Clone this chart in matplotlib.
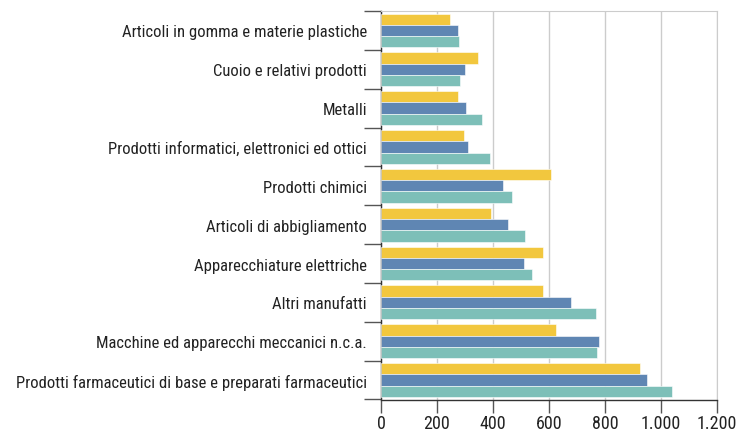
import numpy as np
import matplotlib.pyplot as plt
from matplotlib.ticker import FuncFormatter

plt.rcParams['font.family'] = ['Roboto Condensed', 'DejaVu Sans']

# categories, top to bottom
categories = [
    "Articoli in gomma e materie plastiche",
    "Cuoio e relativi prodotti",
    "Metalli",
    "Prodotti informatici, elettronici ed ottici",
    "Prodotti chimici",
    "Articoli di abbigliamento",
    "Apparecchiature elettriche",
    "Altri manufatti",
    "Macchine ed apparecchi meccanici n.c.a.",
    "Prodotti farmaceutici di base e preparati farmaceutici",
]
yellow = [246, 348, 276, 295, 606, 394, 579, 578, 625, 925]
blue = [275, 300, 303, 309, 435, 453, 509, 678, 780, 949]
teal = [278, 283, 359, 388, 468, 516, 540, 768, 770, 1038]
xticks = [0, 200, 400, 600, 800, 1000, 1200]

fig = plt.figure(figsize=(7.36, 4.35), dpi=100)
ax = fig.add_axes([381 / 736, 1 - 400.5 / 435, 336 / 736, 388.5 / 435])

y = np.arange(len(categories))
h = 0.29
ax.barh(y - h, yellow, height=h, color='#F2C73E', edgecolor='white', linewidth=0.4, zorder=3)
ax.barh(y, blue, height=h, color='#5F86B3', edgecolor='white', linewidth=0.4, zorder=3)
ax.barh(y + h, teal, height=h, color='#7DBFB8', edgecolor='white', linewidth=0.4, zorder=3)

ax.set_ylim(len(categories) - 0.5, -0.5)
ax.set_xlim(0, 1200)

ax.set_yticks(y)
ax.set_yticklabels(categories, fontsize=12, color='#222222')
ax.set_yticks(np.arange(-0.5, len(categories), 1), minor=True)
ax.tick_params(axis='y', which='major', length=0, pad=10)
ax.tick_params(axis='y', which='minor', length=12, width=1, color='#555555')

ax.set_xticks(xticks)
ax.xaxis.set_major_formatter(FuncFormatter(lambda v, p: f"{int(v):,}".replace(",", ".")))
ax.tick_params(axis='x', length=9, width=1, color='#555555', labelsize=13, labelcolor='#222222', pad=1.5)

ax.grid(axis='x', color='#cccccc', linewidth=1, zorder=0)
for s in ['top', 'right']:
    ax.spines[s].set_color('#cccccc')
for s in ['left', 'bottom']:
    ax.spines[s].set_color('#333333')
    ax.spines[s].set_linewidth(1)

fig.savefig('out.png', dpi=100)
